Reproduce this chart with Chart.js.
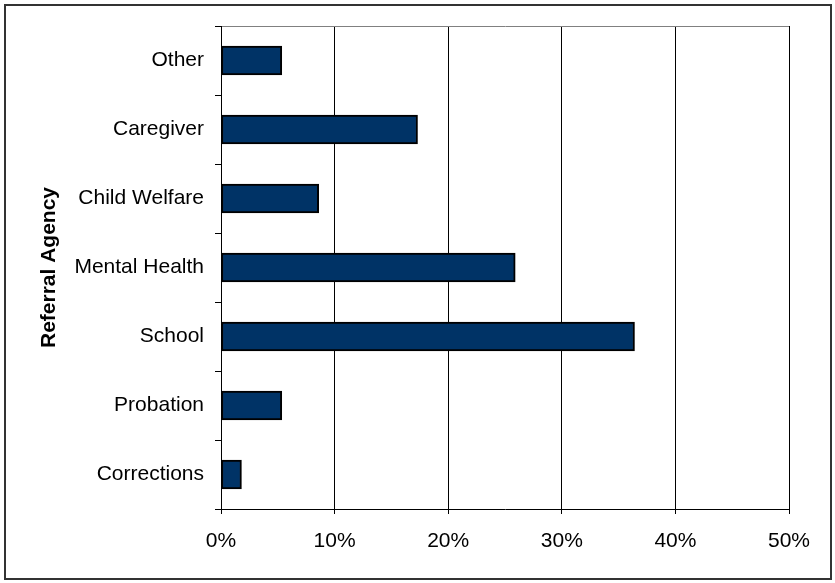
<!DOCTYPE html>
<html>
<head>
<meta charset="utf-8">
<script src="https://cdn.jsdelivr.net/npm/chart.js@4.4.0/dist/chart.umd.min.js"></script>
<style>
  html, body { margin: 0; padding: 0; background: #fff; }
  #wrap { width: 835px; height: 583px; }
</style>
</head>
<body>
<div id="wrap"><canvas id="chart" width="835" height="583"></canvas></div>
<script>
// categories top to bottom, share of referrals (%)
const agencies = ["Other", "Caregiver", "Child Welfare", "Mental Health", "School", "Probation", "Corrections"];
const referralShare = [5.35, 17.3, 8.6, 25.9, 36.4, 5.35, 1.8];
const percentTicks = [0, 10, 20, 30, 40, 50];

const fontFamily = '"Liberation Sans", Arial, sans-serif';

// white page with the thin dark frame round the whole picture
const framePlugin = {
  id: "frame",
  beforeDraw(chart) {
    const c = chart.ctx;
    c.save();
    c.fillStyle = "#fff";
    c.fillRect(0, 0, chart.width, chart.height);
    c.strokeStyle = "#333";
    c.lineWidth = 2;
    c.strokeRect(5, 5, 826, 574);
    c.restore();
  }
};

new Chart(document.getElementById("chart"), {
  type: "bar",
  data: {
    labels: agencies,
    datasets: [{
      data: referralShare,
      backgroundColor: "#003366",
      borderColor: "#000",
      borderWidth: 2,
      borderSkipped: false,
      barThickness: 29
    }]
  },
  options: {
    indexAxis: "y",
    responsive: false,
    animation: false,
    layout: { padding: { top: 26, right: 46, left: 0, bottom: 0 } },
    plugins: {
      legend: { display: false },
      tooltip: { enabled: false }
    },
    scales: {
      x: {
        min: 0,
        max: 50,
        afterBuildTicks: (scale) => {
          scale.ticks = percentTicks.map((v) => ({ value: v }));
        },
        afterFit: (scale) => { scale.height = 74; },
        grid: { color: "#000", lineWidth: 1, tickLength: 5, tickColor: "#000" },
        border: { color: "#000", width: 1 },
        ticks: {
          color: "#000",
          padding: 15,
          font: { family: fontFamily, size: 21 },
          callback: (v) => v + "%"
        }
      },
      y: {
        afterFit: (scale) => { scale.width = 221; },
        grid: {
          color: (ctx) => (ctx.index === 0 ? "#808080" : "rgba(0,0,0,0)"),
          lineWidth: 1,
          tickLength: 6,
          tickColor: "#000"
        },
        border: { color: "#000", width: 1 },
        ticks: {
          color: "#000",
          padding: 11,
          autoSkip: false,
          font: { family: fontFamily, size: 21 }
        },
        title: {
          display: true,
          text: "Referral Agency",
          color: "#000",
          padding: { top: 37, bottom: 0 },
          font: { family: fontFamily, size: 21, weight: "bold" }
        }
      }
    }
  },
  plugins: [framePlugin]
});
</script>
</body>
</html>
